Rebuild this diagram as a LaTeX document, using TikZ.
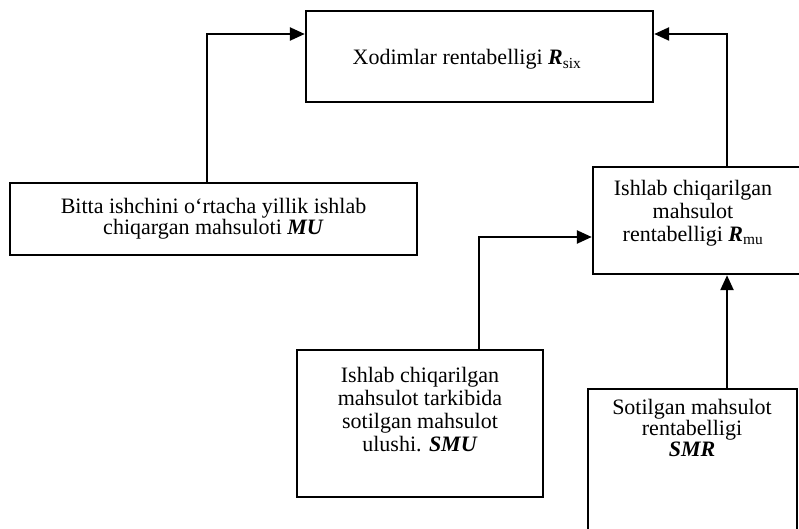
\documentclass[tikz,border=0pt]{standalone}
\usepackage{fontspec}
\setmainfont{Liberation Serif}
\usetikzlibrary{arrows.meta,positioning}
\newcommand{\bi}[1]{\textbf{\textit{#1}}}
\begin{document}
\begin{tikzpicture}[x=1pt,y=-1pt,
    box/.style={draw,line width=2.4pt,inner sep=0pt},
    txt/.style={align=center,inner sep=0pt,font=\fontsize{22}{#1}\selectfont},
    txt/.default=21,
    conn/.style={line width=2.4pt,-{Triangle[length=15pt,width=13pt]}}]
    \useasboundingbox (0,0) rectangle (799,529);
    % boxes
    \node[box,minimum width=347,minimum height=91] (rsix) at (479.5,56.5) {};
    \node[box,txt,minimum width=407,minimum height=72] (mu) at (213.5,219)
        {Bitta ishchini o‘rtacha yillik ishlab\\chiqargan mahsuloti \bi{MU}};
    \node[box,minimum width=208,minimum height=107] (rmu) at (697,220.5) {};
    \node[box,minimum width=246,minimum height=147] (smu) at (420,423.5) {};
    \node[box,minimum width=209,minimum height=146] (smr) at (692.5,462) {};
    % texts (placed by the baseline of their last line)
    \node[txt,anchor=base] (rsixtext) at (467,65) {Xodimlar rentabelligi \bi{R}\textsubscript{six}};
    \node[txt=23,anchor=base] (rmutext) at (693,241) {Ishlab chiqarilgan\\mahsulot\\rentabelligi \bi{R}\textsubscript{mu}};
    \node[txt=23,anchor=base] (smutext) at (420,451) {Ishlab chiqarilgan\\mahsulot tarkibida\\sotilgan mahsulot\\ulushi. \bi{SMU}};
    \node[txt,anchor=base] (smrtext) at (692,456) {Sotilgan mahsulot\\rentabelligi\\\bi{SMR}};
    % arrows
    \draw[conn] ([xshift=-6.5pt]mu.north) |- ([yshift=22.5pt]rsix.west);
    \draw[conn] ([xshift=30pt]rmu.north) |- ([yshift=22.5pt]rsix.east);
    \draw[conn] ([xshift=59pt]smu.north) |- ([yshift=-16.5pt]rmu.west);
    \coordinate (smrtop) at ([xshift=34.5pt]smr.north);
    \draw[conn] (smrtop) -- (smrtop |- rmu.south);
\end{tikzpicture}
\end{document}
